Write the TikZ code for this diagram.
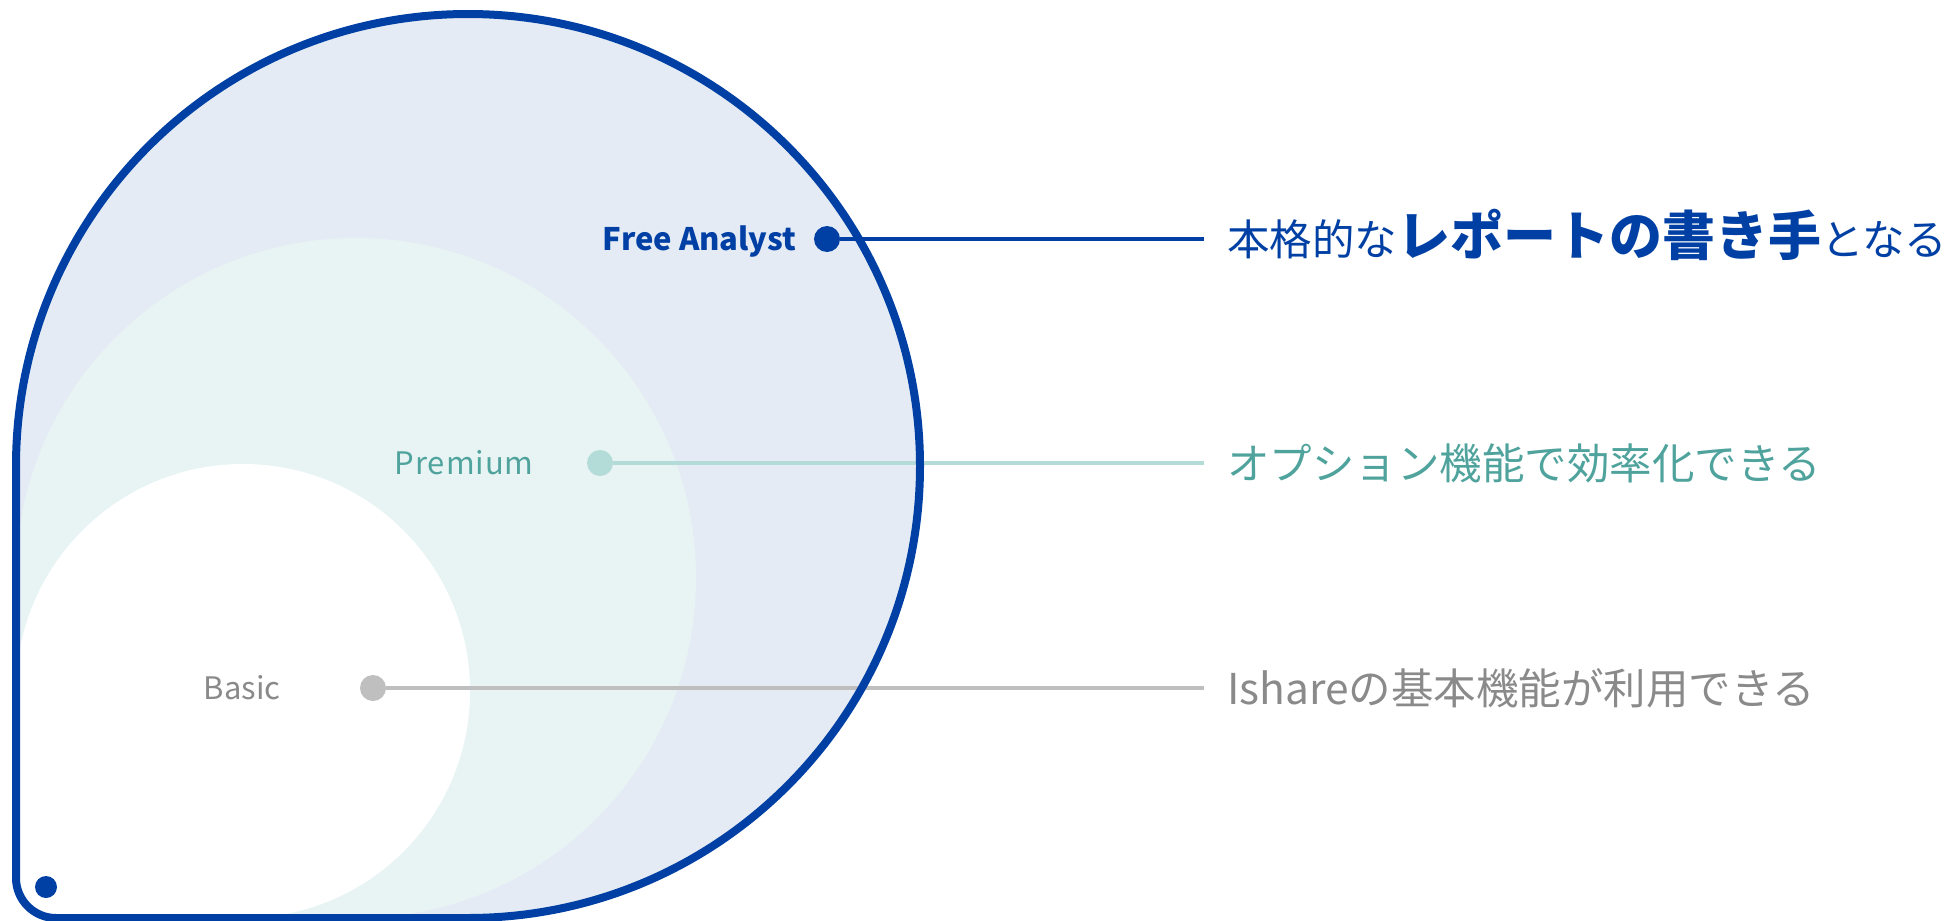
\documentclass[tikz,border=0pt]{standalone}
\usepackage{fontspec}
\setmainfont{Noto Sans CJK JP}
\usetikzlibrary{positioning}

\definecolor{analystblue}{HTML}{003FA3}
\definecolor{analystfill}{HTML}{E4EBF5}
\definecolor{premiumfill}{HTML}{E8F4F4}
\definecolor{premiumdot}{HTML}{B3DCD9}
\definecolor{premiumtext}{HTML}{4FA39C}
\definecolor{basicdot}{HTML}{BFBFBF}
\definecolor{basictext}{HTML}{8A8A8A}

% circle with a square lower left quarter: centre x, centre y, radius
\newcommand{\dropshape}[3]{(#1-#3,#2) arc[start angle=180,end angle=450,radius=#3] -- (#1-#3,#2+#3) -- cycle}
\newcommand{\outershape}{(16,466) arc[start angle=180,end angle=450,radius=452] -- (56,918) arc[start angle=90,end angle=180,radius=40] -- cycle}

\begin{document}
\begin{tikzpicture}[x=1pt,y=-1pt,
    dot/.style={circle,inner sep=0pt,minimum size=26pt},
    tier/.style={font=\fontsize{31}{31}\selectfont,inner sep=0pt,text height=23pt,text depth=0pt},
    tierbold/.style={font=\fontsize{31}{31}\selectfont\bfseries,inner sep=0pt,text height=23pt,text depth=0pt},
    desc/.style={font=\fontsize{42.5}{43}\selectfont,inner sep=0pt,text height=35pt,text depth=3pt},
    link/.style={line width=3.5pt}]
  \useasboundingbox (0,0) rectangle (1952,921);

  % regions
  \fill[analystfill] \outershape;
  \begin{scope}
    \clip \outershape;
    \fill[premiumfill] \dropshape{356}{578}{340};
    \fill[white] \dropshape{243}{691}{227};
  \end{scope}

  % dots and tier names
  \node[dot,fill=analystblue] (fa) at (827,239) {};
  \node[dot,fill=premiumdot] (pr) at (600,463) {};
  \node[dot,fill=basicdot] (ba) at (373,688) {};
  \node[circle,inner sep=0pt,minimum size=22pt,fill=analystblue] (corner) at (46,887) {};

  \node[tierbold,text=analystblue,left=17pt of fa] (falabel) {Free Analyst};
  \node[tier,text=premiumtext,left=53pt of pr] (prlabel) {\addfontfeature{LetterSpace=3}Premium};
  \node[tier,text=basictext,left=79pt of ba] (balabel) {Basic};

  % connectors and descriptions
  \coordinate (faend) at (1204,239);
  \coordinate (prend) at (1204,463);
  \coordinate (baend) at (1204,688);
  \draw[link,analystblue] (fa) -- (faend);
  \draw[link,premiumdot] (pr) -- (prend);
  \draw[link,basicdot] (ba) -- (baend);

  \node[desc,text=analystblue,right=23pt of faend] (fadesc)
    {本格的な{\fontsize{53}{53}\selectfont\bfseries レポートの書き手}となる};
  \node[desc,text=premiumtext,right=23pt of prend] (prdesc) {オプション機能で効率化できる};
  \node[desc,text=basictext,right=23pt of baend] (badesc) {Ishareの基本機能が利用できる};

  % outline
  \draw[analystblue,line width=8pt] \outershape;
\end{tikzpicture}
\end{document}
